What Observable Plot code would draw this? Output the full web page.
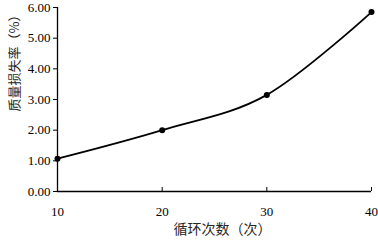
<!DOCTYPE html>
<html><head><meta charset="utf-8">
<script src="https://cdn.jsdelivr.net/npm/d3@7"></script>
<script src="https://cdn.jsdelivr.net/npm/@observablehq/plot@0.6"></script>
<style>body{margin:0;background:#fff;} svg{display:block;}</style>
</head><body>
<div id="chart"></div>
<script>
const cycles = [10, 20, 30, 40];
const massLoss = [1.07, 2.00, 3.15, 5.85];
const xTicks = [20, 30, 40];
const yTicks = [0, 1, 2, 3, 4, 5, 6];
const xLabel = "循环次数（次）";
const yLabel = "质量损失率（%）";

const data = cycles.map((c, i) => ({cycle: c, loss: massLoss[i]}));
const serif = "'Liberation Serif','Times New Roman',serif";

const chart = Plot.plot({
  width: 378, height: 240,
  marginLeft: 57, marginRight: 7, marginTop: 7, marginBottom: 49,
  style: {fontFamily: serif, fontSize: "13px", color: "#000", background: "#fff"},
  x: {domain: [10, 40]},
  y: {domain: [0, 6]},
  marks: [
    Plot.axisY(yTicks, {tickSize: 4, tickPadding: 3, tickFormat: d => d.toFixed(2), label: null, fontSize: 13}),
    Plot.axisX([10, 20, 30, 40], {tickSize: 0, tickPadding: 15, label: null, fontSize: 13}),
    Plot.ruleX(xTicks, {x: d => d, y1: 0, y2: 0.13, stroke: "#000"}),
    Plot.ruleY([0], {stroke: "#000", strokeWidth: 1.3}),
    Plot.ruleX([10], {stroke: "#000", strokeWidth: 1.3}),
    Plot.line(data, {x: "cycle", y: "loss", curve: "cardinal", stroke: "#000", strokeWidth: 1.8}),
    Plot.dot(data, {x: "cycle", y: "loss", r: 3, fill: "#000"}),
    Plot.text([xLabel], {frameAnchor: "bottom", dy: 42, dx: 8, fontFamily: "'Noto Sans CJK SC'", fontSize: 14, fill: "#262626"}),
    Plot.text([yLabel], {frameAnchor: "left", dx: -43, dy: 12, rotate: -90, fontFamily: "'Noto Sans CJK SC'", fontSize: 13, fill: "#262626"})
  ]
});
document.getElementById("chart").appendChild(chart);
</script>
</body></html>
